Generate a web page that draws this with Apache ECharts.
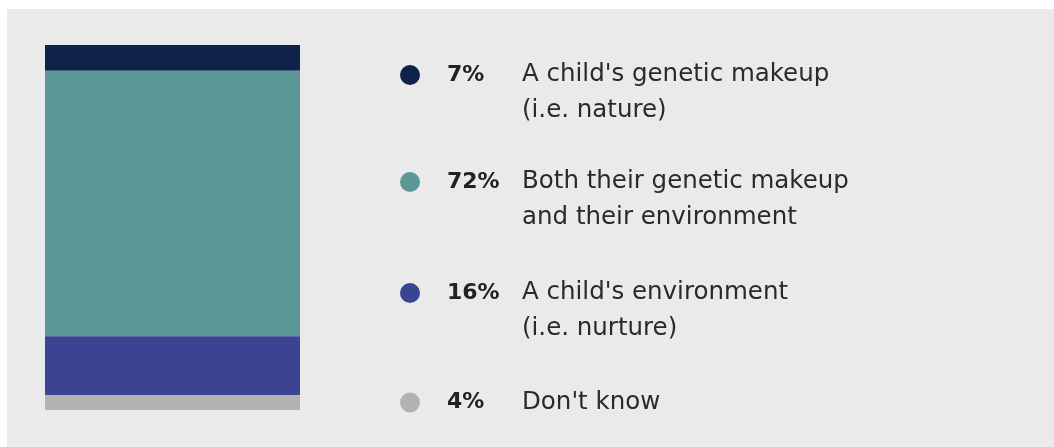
<!DOCTYPE html>
<html>
<head>
<meta charset="utf-8">
<script src="https://cdn.jsdelivr.net/npm/echarts@6/dist/echarts.min.js"></script>
<style>
  html, body { margin: 0; padding: 0; background: #fff; }
  #chart { width: 1054px; height: 447px; }
</style>
</head>
<body>
<div id="chart"></div>
<script>
// answers, top of the bar first
const answers = [
  "A child's genetic makeup\n(i.e. nature)",
  "Both their genetic makeup\nand their environment",
  "A child's environment\n(i.e. nurture)",
  "Don't know",
];
const shares = [7, 72, 16, 4];
const colors = ["#10214a", "#5b9796", "#3b4393", "#b2b2b2"];
// vertical centre of each legend dot
const legendY = [75, 182, 293, 402];

const total = shares.reduce((a, b) => a + b, 0);
const LINE = 36;

function legendText(name) {
  const i = answers.indexOf(name);
  const lines = name.split("\n");
  let s = "{g| }{p|" + shares[i] + "%}{l|" + lines[0] + "}";
  for (let k = 1; k < lines.length; k++) {
    s += "\n{i| }{l|" + lines[k] + "}";
  }
  // empty line on top so the dot sits on the first line
  if (lines.length > 1) s = "{e| }\n" + s;
  return s;
}

const legends = answers.map((name, i) => {
  const n = name.split("\n").length;
  // single line: box top is roughly the icon top
  const half = n > 1 ? ((n + 1) * LINE) / 2 : 12;
  return {
    data: [name],
    left: 400,
    top: legendY[i] - half,
    padding: 0,
    orient: "vertical",
    icon: "circle",
    itemWidth: 20,
    itemHeight: 20,
    selectedMode: false,
    formatter: legendText,
    textStyle: {
      rich: {
        e: { lineHeight: LINE, height: LINE },
        g: { width: 22, lineHeight: LINE },
        i: { width: 97, lineHeight: LINE },
        p: {
          width: 75,
          lineHeight: LINE,
          fontFamily: "DejaVu Sans",
          fontWeight: "bold",
          fontSize: 22,
          color: "#222",
        },
        l: {
          lineHeight: LINE,
          fontFamily: "DejaVu Sans",
          fontSize: 24.5,
          color: "#2a2a2a",
        },
      },
    },
  };
});

const chart = echarts.init(document.getElementById("chart"));
chart.setOption({
  animation: false,
  graphic: [
    {
      type: "rect",
      z: -10,
      silent: true,
      shape: { x: 7, y: 9, width: 1047, height: 438 },
      style: { fill: "#eaeaea" },
    },
  ],
  grid: { left: 45, top: 45, width: 255, height: 365 },
  xAxis: {
    type: "category",
    data: ["all"],
    show: false,
  },
  yAxis: {
    type: "value",
    min: 0,
    max: total,
    inverse: true,
    show: false,
  },
  legend: legends,
  series: answers.map((name, i) => ({
    name: name,
    type: "bar",
    stack: "total",
    barWidth: "100%",
    itemStyle: { color: colors[i] },
    data: [shares[i]],
  })),
});
</script>
</body>
</html>
